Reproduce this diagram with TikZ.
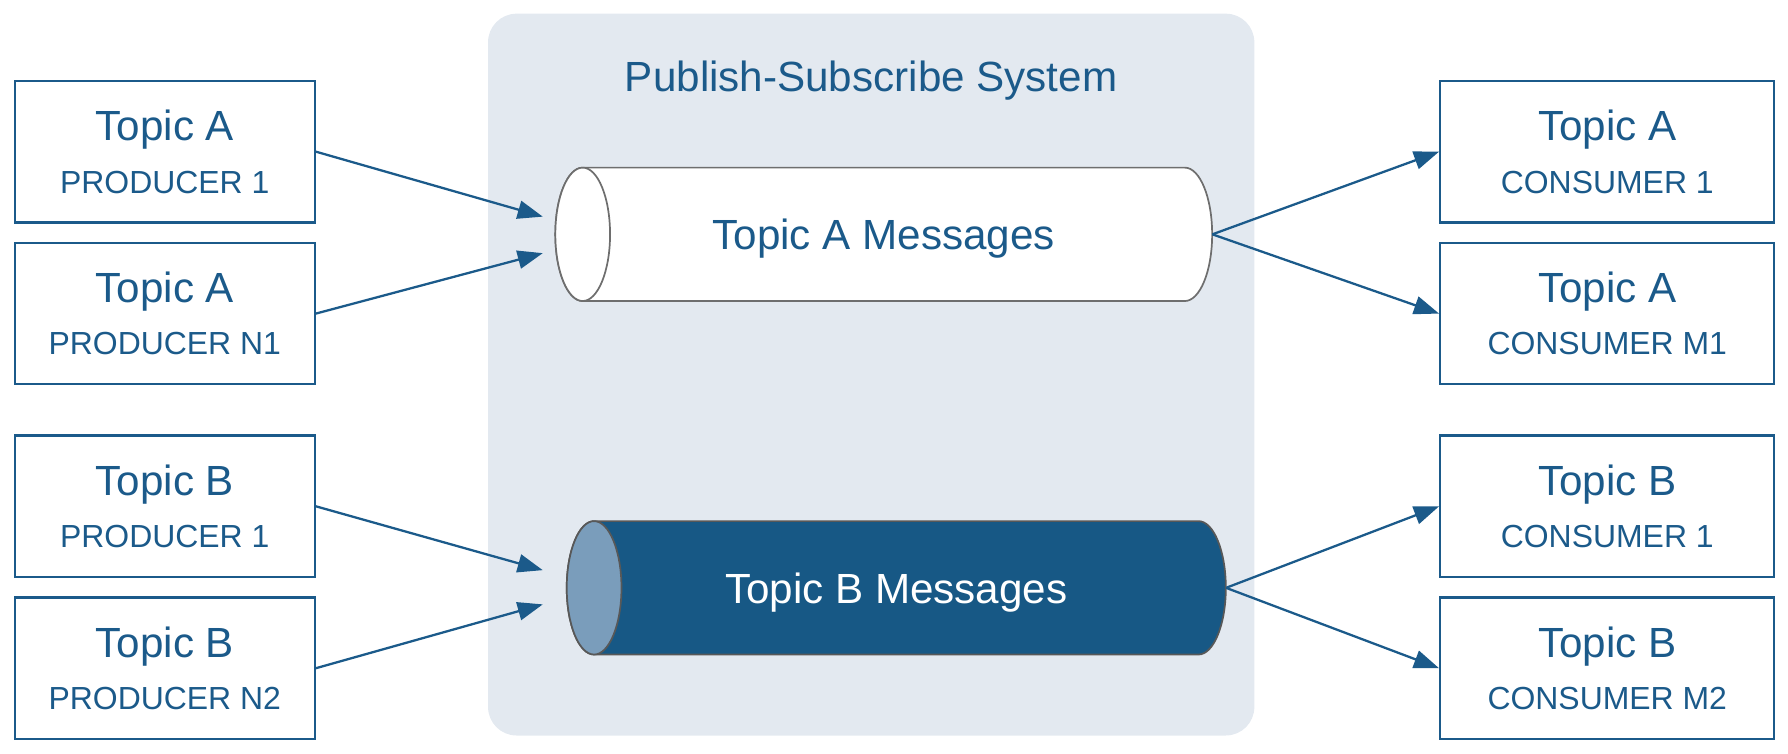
\documentclass[tikz,border=0pt]{standalone}
\usepackage{fontspec}
\setmainfont{Liberation Sans}
\usetikzlibrary{arrows.meta,calc}
\definecolor{psblue}{HTML}{1B5A8A}
\definecolor{pipeblue}{HTML}{175885}
\definecolor{pipeface}{HTML}{7A9DBB}
\definecolor{panelgrey}{HTML}{E3E9F0}
\definecolor{rimgrey}{HTML}{6E6E6E}

\begin{document}
\begin{tikzpicture}
  [x=1pt,y=-1pt,
   topicbox/.style={draw=psblue,line width=2pt,minimum width=#1,minimum height=124pt,
     inner sep=0pt,align=center,text=psblue,font=\fontsize{28}{46}\selectfont},
   msgpipe/.style={minimum width=#1,minimum height=117pt,inner sep=0pt,text depth=0pt,
     font=\fontsize{37}{44}\selectfont},
   rim/.style={draw=rimgrey,line width=1.5pt},
   flow/.style={draw=psblue,line width=2pt,-{Triangle[length=22pt,width=16pt]}}]
  \useasboundingbox (0,0) rectangle (1568,661);
  \fill[panelgrey,rounded corners=25pt] (428,12) rectangle (1100,645);
  \node[text=psblue,font=\fontsize{37}{44}\selectfont,anchor=base] (title) at (764,80) {Publish-Subscribe System};
  % message pipes
  \coordinate (cA) at (775,205.5);
  \coordinate (cB) at (786,515.5);
  \draw[rim,fill=white] ([shift={(-264,-58.5)}]cA) -- ++(528,0)
    arc[start angle=90,end angle=-90,x radius=24pt,y radius=58.5pt] -- ++(-528,0)
    arc[start angle=-90,end angle=-270,x radius=24pt,y radius=58.5pt] -- cycle;
  \draw[rim,fill=white] ([xshift=-264pt]cA) ellipse[x radius=24pt,y radius=58.5pt];
  \draw[rim,draw=rimgrey!80!black,fill=pipeblue] ([shift={(-265,-58.5)}]cB) -- ++(530,0)
    arc[start angle=90,end angle=-90,x radius=24pt,y radius=58.5pt] -- ++(-530,0)
    arc[start angle=-90,end angle=-270,x radius=24pt,y radius=58.5pt] -- cycle;
  \draw[rim,draw=rimgrey!80!black,fill=pipeface] ([xshift=-265pt]cB) ellipse[x radius=24pt,y radius=58.5pt];
  \node[msgpipe=576pt,text=psblue] (cylA) at (cA) {Topic A Messages};
  \node[msgpipe=578pt,text=white] (cylB) at (cB) {Topic B Messages};
  % producers
  \node[topicbox=263pt] (pa1) at (144.5,133) {{\fontsize{37}{46}\selectfont Topic A}\\PRODUCER 1};
  \node[topicbox=263pt] (pa2) at (144.5,275) {{\fontsize{37}{46}\selectfont Topic A}\\PRODUCER N1};
  \node[topicbox=263pt] (pb1) at (144.5,444) {{\fontsize{37}{46}\selectfont Topic B}\\PRODUCER 1};
  \node[topicbox=263pt] (pb2) at (144.5,586) {{\fontsize{37}{46}\selectfont Topic B}\\PRODUCER N2};
  % consumers
  \node[topicbox=293pt] (ca1) at (1409.5,133) {{\fontsize{37}{46}\selectfont Topic A}\\CONSUMER 1};
  \node[topicbox=293pt] (ca2) at (1409.5,275) {{\fontsize{37}{46}\selectfont Topic A}\\CONSUMER M1};
  \node[topicbox=293pt] (cb1) at (1409.5,444) {{\fontsize{37}{46}\selectfont Topic B}\\CONSUMER 1};
  \node[topicbox=293pt] (cb2) at (1409.5,586) {{\fontsize{37}{46}\selectfont Topic B}\\CONSUMER M2};
  \coordinate (inA1) at ($(cA)+(-299,-15.5)$);
  \coordinate (inA2) at ($(cA)+(-299,16.5)$);
  \coordinate (inB1) at ($(cB)+(-310,-15.5)$);
  \coordinate (inB2) at ($(cB)+(-310,14.5)$);
  \foreach \from/\to in {pa1/inA1,pa2/inA2,pb1/inB1,pb2/inB2}
    \draw[flow] (\from.east) -- (\to);
  \foreach \from/\to in {cylA/ca1,cylA/ca2,cylB/cb1,cylB/cb2}
    \draw[flow] (\from.east) -- (\to.west);
\end{tikzpicture}
\end{document}
